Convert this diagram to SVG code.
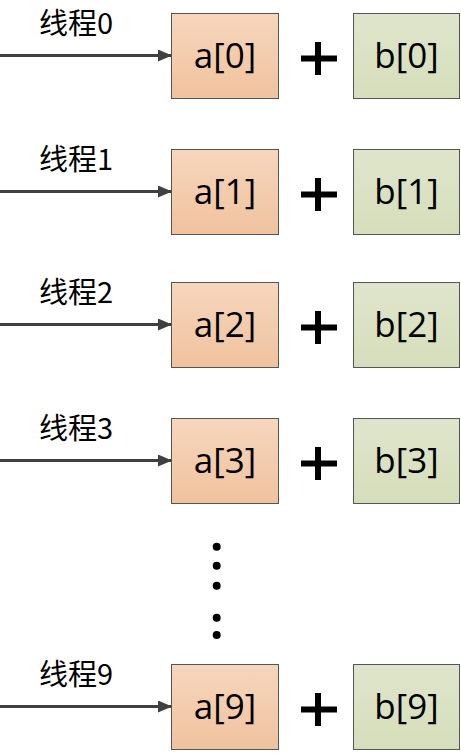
<svg xmlns="http://www.w3.org/2000/svg" width="461" height="754" viewBox="0 0 461 754">
<defs>
<linearGradient id="ga" x1="0" y1="0" x2="0" y2="1"><stop offset="0" stop-color="#f6d6bd"/><stop offset="1" stop-color="#f0c29e"/></linearGradient>
<linearGradient id="gb" x1="0" y1="0" x2="0" y2="1"><stop offset="0" stop-color="#dfe5cc"/><stop offset="1" stop-color="#d5deba"/></linearGradient>
<marker id="arr" markerWidth="14" markerHeight="12" refX="13" refY="6" orient="auto" markerUnits="userSpaceOnUse"><path d="M0,0 L14,6 L0,12 Z" fill="#404040"/></marker>
</defs>
<style>
.a{fill:url(#ga);stroke:#555;stroke-width:1}
.b{fill:url(#gb);stroke:#555;stroke-width:1}
.t{font-family:"Open Sans","Noto Sans","Noto Sans CJK SC",sans-serif;font-size:35px;fill:#000;text-anchor:middle}
.l{font-family:"Noto Sans CJK SC","Noto Sans",sans-serif;font-size:29px;fill:#000}
.c{stroke:#404040;stroke-width:3;fill:none;marker-end:url(#arr)}
.p{stroke:#000;stroke-width:6;fill:none}
</style>
<g id="connectors">
<line class="c" x1="0" y1="55.5" x2="171" y2="55.5"/>
<line class="c" x1="0" y1="191.5" x2="171" y2="191.5"/>
<line class="c" x1="0" y1="324.5" x2="171" y2="324.5"/>
<line class="c" x1="0" y1="460.5" x2="171" y2="460.5"/>
<line class="c" x1="0" y1="706.5" x2="171" y2="706.5"/>
</g>
<g id="row0">
<text class="l" x="39" y="34">线程0</text>
<g id="a0"><rect class="a" x="171.5" y="13.5" width="107" height="85"/><text class="t" x="225" y="68">a[0]</text></g>
<g id="plus0"><path class="p" d="M318,42V75M301,58.5H337"/></g>
<g id="b0"><rect class="b" x="353.5" y="13.5" width="106" height="85"/><text class="t" x="406.5" y="68">b[0]</text></g>
</g>
<g id="row1">
<text class="l" x="39" y="170">线程1</text>
<g id="a1"><rect class="a" x="171.5" y="149.5" width="107" height="85"/><text class="t" x="225" y="204">a[1]</text></g>
<g id="plus1"><path class="p" d="M318,178V211M301,194.5H337"/></g>
<g id="b1"><rect class="b" x="353.5" y="149.5" width="106" height="85"/><text class="t" x="406.5" y="204">b[1]</text></g>
</g>
<g id="row2">
<text class="l" x="39" y="303">线程2</text>
<g id="a2"><rect class="a" x="171.5" y="282.5" width="107" height="85"/><text class="t" x="225" y="337">a[2]</text></g>
<g id="plus2"><path class="p" d="M318,311V344M301,327.5H337"/></g>
<g id="b2"><rect class="b" x="353.5" y="282.5" width="106" height="85"/><text class="t" x="406.5" y="337">b[2]</text></g>
</g>
<g id="row3">
<text class="l" x="39" y="439">线程3</text>
<g id="a3"><rect class="a" x="171.5" y="418.5" width="107" height="85"/><text class="t" x="225" y="473">a[3]</text></g>
<g id="plus3"><path class="p" d="M318,447V480M301,463.5H337"/></g>
<g id="b3"><rect class="b" x="353.5" y="418.5" width="106" height="85"/><text class="t" x="406.5" y="473">b[3]</text></g>
</g>
<g id="dots" fill="#000">
<circle cx="216.7" cy="546.7" r="4"/>
<circle cx="216.7" cy="565.7" r="4"/>
<circle cx="216.7" cy="585.7" r="4"/>
<circle cx="216.7" cy="617.7" r="4"/>
<circle cx="216.7" cy="635" r="4"/>
</g>
<g id="row9">
<text class="l" x="39" y="685">线程9</text>
<g id="a9"><rect class="a" x="171.5" y="664.5" width="107" height="85"/><text class="t" x="225" y="719">a[9]</text></g>
<g id="plus9"><path class="p" d="M318,693V726M301,709.5H337"/></g>
<g id="b9"><rect class="b" x="353.5" y="664.5" width="106" height="85"/><text class="t" x="406.5" y="719">b[9]</text></g>
</g>
</svg>
